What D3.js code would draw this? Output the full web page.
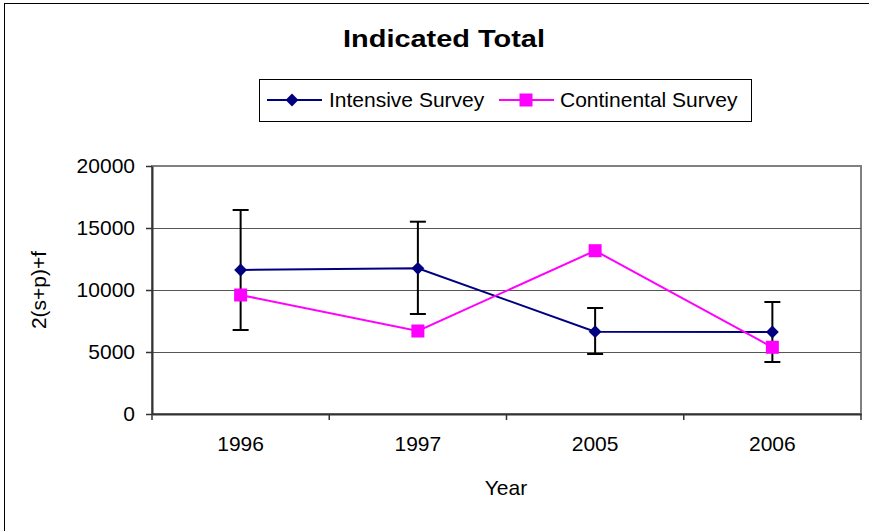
<!DOCTYPE html>
<html>
<head>
<meta charset="utf-8">
<script src="https://d3js.org/d3.v7.min.js"></script>
<style>
  body { margin: 0; background: #fff; }
  text { font-family: "Liberation Sans", Arial, sans-serif; fill: #000; }
</style>
</head>
<body>
<svg id="chart" width="869" height="531"></svg>
<script>
// chart data
const years = ["1996", "1997", "2005", "2006"];
const intensive = [11613, 11750, 6637, 6613];
const intensiveHigh = [16452, 15508, 8548, 9032];
const intensiveLow = [6774, 8065, 4839, 4194];
const continental = [9597, 6694, 13169, 5379];
const yTicks = [0, 5000, 10000, 15000, 20000];

let svg = d3.select("#chart");
let plotLeft = 152, plotRight = 861, plotTop = 166, plotBottom = 414;

// outer frame (only left/top edges visible)
svg.append("rect")
    .attr("x", 4.5).attr("y", 3.5)
    .attr("width", 900).attr("height", 600)
    .attr("fill", "none").attr("stroke", "#000").attr("stroke-width", 1);

let xScale = d3.scaleBand()
    .domain(years)
    .range([plotLeft, plotRight]);

let yScale = d3.scaleLinear()
    .domain([0, 20000])
    .range([plotBottom, plotTop]);

// plot area border
svg.append("rect")
    .attr("x", plotLeft).attr("y", plotTop)
    .attr("width", plotRight - plotLeft).attr("height", plotBottom - plotTop)
    .attr("fill", "#fff").attr("stroke", "#808080").attr("stroke-width", 2);

// gridlines
svg.append("g").selectAll("line")
    .data(yTicks.filter(d => d > 0 && d < 20000))
    .enter().append("line")
    .attr("x1", plotLeft).attr("x2", plotRight)
    .attr("y1", d => Math.round(yScale(d)) + 0.5)
    .attr("y2", d => Math.round(yScale(d)) + 0.5)
    .attr("stroke", "#555").attr("stroke-width", 1);

// y axis
let yAxis = d3.axisLeft(yScale).tickValues(yTicks).tickFormat(d3.format("d"))
    .tickSizeInner(6).tickSizeOuter(0).tickPadding(11);
let yg = svg.append("g").attr("transform", "translate(" + [plotLeft, 0] + ")").call(yAxis);
yg.select(".domain").attr("stroke", "#333").attr("stroke-width", 2);
yg.selectAll(".tick line").attr("stroke", "#333").attr("stroke-width", 1.5);
yg.selectAll("text").style("font-size", "21px").attr("fill", "#000");

// x axis
let xAxis = d3.axisBottom(xScale).tickSize(0).tickPadding(22);
let xg = svg.append("g").attr("transform", "translate(" + [0, plotBottom] + ")").call(xAxis);
xg.select(".domain").attr("stroke", "#333").attr("stroke-width", 2);
xg.selectAll("text").style("font-size", "21px").attr("fill", "#000");
// ticks at category boundaries
xg.selectAll(".bound")
    .data(years.concat(["end"]))
    .enter().append("line")
    .attr("class", "bound")
    .attr("x1", (d, i) => plotLeft + i * xScale.bandwidth())
    .attr("x2", (d, i) => plotLeft + i * xScale.bandwidth())
    .attr("y1", 0).attr("y2", 6)
    .attr("stroke", "#333").attr("stroke-width", 1.5);

let cx = d => xScale(d) + xScale.bandwidth() / 2;

// error bars
let eb = svg.append("g").attr("stroke", "#000").attr("stroke-width", 2);
years.forEach((y, i) => {
    eb.append("line")
        .attr("x1", cx(y)).attr("x2", cx(y))
        .attr("y1", yScale(intensiveHigh[i])).attr("y2", yScale(intensiveLow[i]));
    [intensiveHigh[i], intensiveLow[i]].forEach(v => {
        eb.append("line")
            .attr("x1", cx(y) - 8).attr("x2", cx(y) + 8)
            .attr("y1", yScale(v)).attr("y2", yScale(v));
    });
});

let line = d3.line().x((d, i) => cx(years[i])).y(d => yScale(d));
let diamond = d3.symbol().type(d3.symbolDiamond2).size(105);

// intensive series
svg.append("path").datum(intensive)
    .attr("d", line).attr("fill", "none")
    .attr("stroke", "#000080").attr("stroke-width", 2);
svg.append("g").selectAll("path")
    .data(intensive).enter().append("path")
    .attr("d", diamond)
    .attr("transform", (d, i) => "translate(" + [cx(years[i]), yScale(d)] + ")")
    .attr("fill", "#000080");

// continental series
svg.append("path").datum(continental)
    .attr("d", line).attr("fill", "none")
    .attr("stroke", "#ff00ff").attr("stroke-width", 2);
svg.append("g").selectAll("rect")
    .data(continental).enter().append("rect")
    .attr("x", (d, i) => cx(years[i]) - 6.5)
    .attr("y", d => yScale(d) - 6.5)
    .attr("width", 13).attr("height", 13)
    .attr("fill", "#ff00ff");

// title
svg.append("text")
    .attr("x", 444).attr("y", 47)
    .attr("text-anchor", "middle")
    .style("font-size", "24px").style("font-weight", "bold")
    .attr("textLength", 202).attr("lengthAdjust", "spacingAndGlyphs")
    .text("Indicated Total");

// axis titles
svg.append("text")
    .attr("x", 506).attr("y", 495)
    .attr("text-anchor", "middle")
    .style("font-size", "21px")
    .text("Year");
svg.append("text")
    .attr("transform", "translate(46,290) rotate(-90)")
    .attr("text-anchor", "middle")
    .style("font-size", "21px")
    .text("2(s+p)+f");

// legend
let lg = svg.append("g");
lg.append("rect")
    .attr("x", 259.5).attr("y", 79.5)
    .attr("width", 492).attr("height", 42)
    .attr("fill", "#fff").attr("stroke", "#000").attr("stroke-width", 1);
lg.append("line").attr("x1", 267).attr("x2", 322).attr("y1", 100).attr("y2", 100)
    .attr("stroke", "#000080").attr("stroke-width", 2);
lg.append("path")
    .attr("d", diamond)
    .attr("transform", "translate(292,100)")
    .attr("fill", "#000080");
lg.append("text").attr("x", 329).attr("y", 107)
    .style("font-size", "21px").text("Intensive Survey");
lg.append("line").attr("x1", 499).attr("x2", 554).attr("y1", 100).attr("y2", 100)
    .attr("stroke", "#ff00ff").attr("stroke-width", 2);
lg.append("rect").attr("x", 519.5).attr("y", 93.5).attr("width", 13).attr("height", 13)
    .attr("fill", "#ff00ff");
lg.append("text").attr("x", 560).attr("y", 107)
    .style("font-size", "21px").text("Continental Survey");
</script>
</body>
</html>
